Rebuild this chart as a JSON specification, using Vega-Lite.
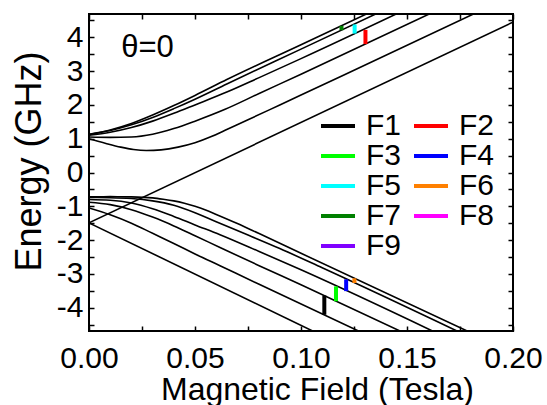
{
  "$schema": "https://vega.github.io/schema/vega-lite/v6.json",
  "width": 424,
  "height": 317,
  "autosize": {"type": "none"},
  "padding": {"left": 89, "top": 14, "right": 34, "bottom": 74},
  "background": "white",
  "config": {
    "font": "Liberation Sans",
    "view": {"stroke": "black", "strokeWidth": 2},
    "axis": {
      "domain": false,
      "grid": false,
      "tickColor": "black",
      "tickWidth": 1.5,
      "tickSize": 5,
      "labelFont": "Liberation Sans",
      "labelFontSize": 30,
      "labelColor": "black",
      "labelOverlap": false,
      "labelFlush": false,
      "titleFont": "Liberation Sans",
      "titleFontSize": 32,
      "titleFontWeight": "normal",
      "titleColor": "black"
    }
  },
  "datasets": {
    "levels": [
      {"c": "U1", "B": 0, "E": 1.13}, {"c": "U1", "B": 0.01, "E": 1.26}, {"c": "U1", "B": 0.02, "E": 1.45}, {"c": "U1", "B": 0.03, "E": 1.7}, {"c": "U1", "B": 0.04, "E": 1.98}, {"c": "U1", "B": 0.05, "E": 2.28}, {"c": "U1", "B": 0.065, "E": 2.75}, {"c": "U1", "B": 0.1, "E": 3.78}, {"c": "U1", "B": 0.14, "E": 4.96},
      {"c": "U2", "B": 0, "E": 1.12}, {"c": "U2", "B": 0.01, "E": 1.24}, {"c": "U2", "B": 0.02, "E": 1.41}, {"c": "U2", "B": 0.03, "E": 1.63}, {"c": "U2", "B": 0.04, "E": 1.89}, {"c": "U2", "B": 0.05, "E": 2.17}, {"c": "U2", "B": 0.065, "E": 2.62}, {"c": "U2", "B": 0.1, "E": 3.65}, {"c": "U2", "B": 0.14, "E": 4.83},
      {"c": "U3", "B": 0, "E": 1.1}, {"c": "U3", "B": 0.01, "E": 1.19}, {"c": "U3", "B": 0.02, "E": 1.33}, {"c": "U3", "B": 0.03, "E": 1.52}, {"c": "U3", "B": 0.04, "E": 1.75}, {"c": "U3", "B": 0.05, "E": 2.0}, {"c": "U3", "B": 0.065, "E": 2.38}, {"c": "U3", "B": 0.08, "E": 2.8}, {"c": "U3", "B": 0.1, "E": 3.37}, {"c": "U3", "B": 0.16, "E": 5.14},
      {"c": "U4", "B": 0, "E": 1.05}, {"c": "U4", "B": 0.01, "E": 1.04}, {"c": "U4", "B": 0.02, "E": 1.05}, {"c": "U4", "B": 0.03, "E": 1.13}, {"c": "U4", "B": 0.04, "E": 1.3}, {"c": "U4", "B": 0.05, "E": 1.52}, {"c": "U4", "B": 0.0642, "E": 1.87}, {"c": "U4", "B": 0.08, "E": 2.33}, {"c": "U4", "B": 0.1, "E": 2.91}, {"c": "U4", "B": 0.17, "E": 4.97},
      {"c": "U5", "B": 0, "E": 1.0}, {"c": "U5", "B": 0.008, "E": 0.86}, {"c": "U5", "B": 0.015, "E": 0.75}, {"c": "U5", "B": 0.021, "E": 0.68}, {"c": "U5", "B": 0.027, "E": 0.65}, {"c": "U5", "B": 0.034, "E": 0.67}, {"c": "U5", "B": 0.042, "E": 0.75}, {"c": "U5", "B": 0.05, "E": 0.88}, {"c": "U5", "B": 0.058, "E": 1.07}, {"c": "U5", "B": 0.0642, "E": 1.25}, {"c": "U5", "B": 0.075, "E": 1.56}, {"c": "U5", "B": 0.09, "E": 2.0}, {"c": "U5", "B": 0.12, "E": 2.88}, {"c": "U5", "B": 0.19, "E": 4.945},
      {"c": "L", "B": 0, "E": -1.49}, {"c": "L", "B": 0.2, "E": 4.45},
      {"c": "LL1", "B": 0, "E": -0.72}, {"c": "LL1", "B": 0.01, "E": -0.715}, {"c": "LL1", "B": 0.02, "E": -0.72}, {"c": "LL1", "B": 0.03, "E": -0.75}, {"c": "LL1", "B": 0.035, "E": -0.79}, {"c": "LL1", "B": 0.04, "E": -0.84}, {"c": "LL1", "B": 0.045, "E": -0.91}, {"c": "LL1", "B": 0.05, "E": -1.0}, {"c": "LL1", "B": 0.055, "E": -1.11}, {"c": "LL1", "B": 0.06, "E": -1.24}, {"c": "LL1", "B": 0.07, "E": -1.51}, {"c": "LL1", "B": 0.08, "E": -1.8}, {"c": "LL1", "B": 0.1, "E": -2.39}, {"c": "LL1", "B": 0.19, "E": -5.03},
      {"c": "LL2", "B": 0, "E": -0.74}, {"c": "LL2", "B": 0.01, "E": -0.745}, {"c": "LL2", "B": 0.02, "E": -0.77}, {"c": "LL2", "B": 0.03, "E": -0.84}, {"c": "LL2", "B": 0.04, "E": -0.97}, {"c": "LL2", "B": 0.05, "E": -1.19}, {"c": "LL2", "B": 0.06, "E": -1.46}, {"c": "LL2", "B": 0.075, "E": -1.85}, {"c": "LL2", "B": 0.09, "E": -2.25}, {"c": "LL2", "B": 0.11, "E": -2.82}, {"c": "LL2", "B": 0.19, "E": -5.18},
      {"c": "LL3", "B": 0, "E": -0.8}, {"c": "LL3", "B": 0.01, "E": -0.82}, {"c": "LL3", "B": 0.02, "E": -0.9}, {"c": "LL3", "B": 0.03, "E": -1.07}, {"c": "LL3", "B": 0.04, "E": -1.3}, {"c": "LL3", "B": 0.05, "E": -1.55}, {"c": "LL3", "B": 0.0618, "E": -1.84}, {"c": "LL3", "B": 0.08, "E": -2.33}, {"c": "LL3", "B": 0.1, "E": -2.88}, {"c": "LL3", "B": 0.18, "E": -5.23},
      {"c": "LL4", "B": 0, "E": -0.88}, {"c": "LL4", "B": 0.01, "E": -0.95}, {"c": "LL4", "B": 0.02, "E": -1.1}, {"c": "LL4", "B": 0.03, "E": -1.32}, {"c": "LL4", "B": 0.04, "E": -1.58}, {"c": "LL4", "B": 0.05, "E": -1.87}, {"c": "LL4", "B": 0.0618, "E": -2.22}, {"c": "LL4", "B": 0.08, "E": -2.75}, {"c": "LL4", "B": 0.1, "E": -3.32}, {"c": "LL4", "B": 0.16, "E": -5.08},
      {"c": "LL5", "B": 0, "E": -1.05}, {"c": "LL5", "B": 0.01, "E": -1.25}, {"c": "LL5", "B": 0.02, "E": -1.5}, {"c": "LL5", "B": 0.03, "E": -1.8}, {"c": "LL5", "B": 0.04, "E": -2.1}, {"c": "LL5", "B": 0.05, "E": -2.41}, {"c": "LL5", "B": 0.0618, "E": -2.76}, {"c": "LL5", "B": 0.08, "E": -3.3}, {"c": "LL5", "B": 0.14, "E": -5.07},
      {"c": "LL6", "B": 0, "E": -1.49}, {"c": "LL6", "B": 0.12, "E": -5.13}
    ],
    "transitions": [
      {"series": "F1", "B": 0.111, "E1": -3.64, "E2": -4.21},
      {"series": "F3", "B": 0.1165, "E1": -3.37, "E2": -3.81},
      {"series": "F4", "B": 0.1213, "E1": -3.16, "E2": -3.51},
      {"series": "F6", "B": 0.1252, "E1": -3.13, "E2": -3.27},
      {"series": "F7", "B": 0.1191, "E1": 4.34, "E2": 4.21},
      {"series": "F5", "B": 0.1253, "E1": 4.38, "E2": 4.11},
      {"series": "F2", "B": 0.1304, "E1": 4.22, "E2": 3.8}
    ],
    "note": [
      {"label": "θ=0", "B": 0.0276, "E": 3.69}
    ]
  },
  "layer": [
    {
      "data": {"name": "levels"},
      "mark": {"type": "line", "color": "black", "strokeWidth": 1.6, "interpolate": "monotone", "clip": true},
      "encoding": {
        "x": {
          "field": "B", "type": "quantitative",
          "scale": {"domain": [0, 0.2], "nice": false, "zero": false},
          "axis": {
            "orient": "bottom", "offset": -5,
            "values": [0, 0.025, 0.05, 0.075, 0.1, 0.125, 0.15, 0.175, 0.2],
            "labelExpr": "round(datum.value * 1000) % 50 == 0 ? format(datum.value, '.2f') : ''",
            "labelPadding": 12,
            "title": "Magnetic Field (Tesla)",
            "titleX": 228, "titleY": 73, "titleAlign": "center", "titleBaseline": "alphabetic"
          }
        },
        "y": {
          "field": "E", "type": "quantitative",
          "scale": {"domain": [-4.69, 4.69], "nice": false, "zero": false},
          "axis": {
            "orient": "left", "offset": -5,
            "values": [-4.5, -4, -3.5, -3, -2.5, -2, -1.5, -1, -0.5, 0, 0.5, 1, 1.5, 2, 2.5, 3, 3.5, 4, 4.5],
            "labelExpr": "datum.value % 1 == 0 ? toString(datum.value) : ''",
            "labelPadding": 6,
            "title": "Energy (GHz)",
            "titleFontSize": 36,
            "titleX": -65, "titleY": 147, "titleAngle": -90, "titleAlign": "center", "titleBaseline": "middle"
          }
        },
        "detail": {"field": "c", "type": "nominal"}
      }
    },
    {
      "data": {"name": "transitions"},
      "mark": {"type": "rule", "strokeWidth": 4, "clip": true},
      "encoding": {
        "x": {
          "field": "B", "type": "quantitative",
          "axis": {
            "orient": "top", "offset": -5,
            "values": [0, 0.025, 0.05, 0.075, 0.1, 0.125, 0.15, 0.175, 0.2],
            "labels": false, "title": null
          }
        },
        "y": {
          "field": "E1", "type": "quantitative",
          "axis": {
            "orient": "right", "offset": -5,
            "values": [-4.5, -4, -3.5, -3, -2.5, -2, -1.5, -1, -0.5, 0, 0.5, 1, 1.5, 2, 2.5, 3, 3.5, 4, 4.5],
            "labels": false, "title": null
          }
        },
        "y2": {"field": "E2"},
        "color": {
          "field": "series", "type": "nominal",
          "scale": {
            "domain": ["F1", "F2", "F3", "F4", "F5", "F6", "F7", "F8", "F9"],
            "range": ["#000000", "#ff0000", "#00ff00", "#0000ff", "#00ffff", "#ff8000", "#008000", "#ff00ff", "#8000ff"]
          },
          "legend": {
            "orient": "none", "legendX": 230, "legendY": 98,
            "direction": "horizontal", "columns": 2, "title": null, "padding": 0,
            "symbolType": "stroke", "symbolStrokeWidth": 4, "symbolSize": 1156,
            "labelFont": "Liberation Sans", "labelFontSize": 30, "labelColor": "black",
            "labelOffset": 9, "columnPadding": 10, "rowPadding": 0, "clipHeight": 28
          }
        }
      }
    },
    {
      "data": {"name": "note"},
      "mark": {"type": "text", "fontSize": 31, "font": "Liberation Sans", "color": "black", "align": "center", "baseline": "middle"},
      "encoding": {
        "x": {"field": "B", "type": "quantitative", "axis": null},
        "y": {"field": "E", "type": "quantitative", "axis": null},
        "text": {"field": "label"}
      }
    }
  ],
  "resolve": {"axis": {"x": "independent", "y": "independent"}}
}
